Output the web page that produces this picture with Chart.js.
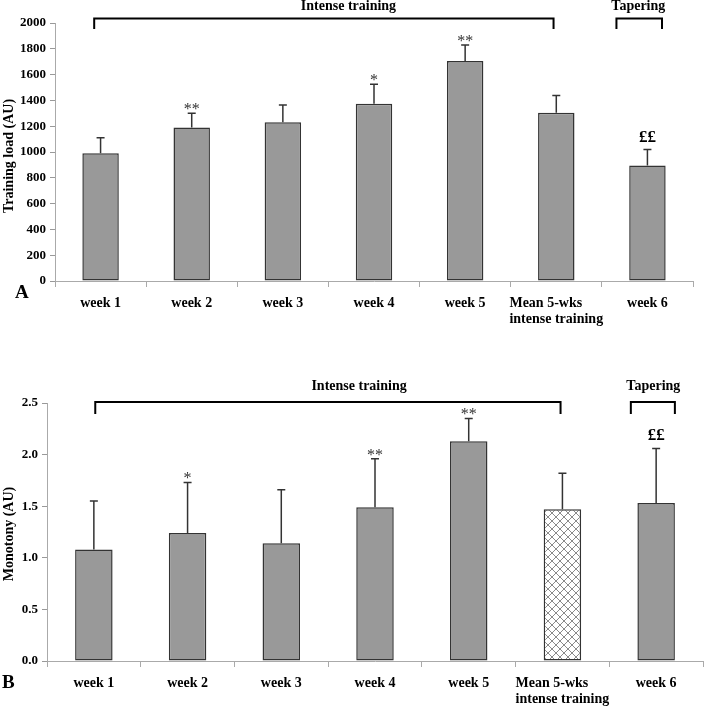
<!DOCTYPE html>
<html>
<head>
    <title>Training load and monotony</title>
    <script src="https://cdn.jsdelivr.net/npm/chart.js"></script>
    <style>
        * { margin: 0; padding: 0; box-sizing: border-box; }
        body { width: 704px; height: 707px; background: #fff; position: relative; overflow: hidden; }
        .panel { position: absolute; left: 0; width: 704px; }
    </style>
</head>
<body>
    <div class="panel" style="top:0;height:345px"><canvas id="chartA"></canvas></div>
    <div class="panel" style="top:345px;height:362px"><canvas id="chartB"></canvas></div>

    <script>
        // categories shared by both panels (trailing spaces keep the two lines left-aligned)
        const categories = ['week 1', 'week 2', 'week 3', 'week 4', 'week 5', ['Mean 5-wks      ', 'intense training'], 'week 6'];

        // panel A - training load (AU)
        const loadMean = [990, 1190, 1230, 1375, 1705, 1305, 895];
        const loadSD = [120, 110, 135, 150, 125, 133, 124];
        const loadMarks = ['', '**', '', '*', '**', '', '££'];
        const loadTicks = { min: 0, max: 2000, step: 200 };

        // panel B - monotony (AU)
        const monoMean = [1.08, 1.24, 1.14, 1.49, 2.13, 1.47, 1.53];
        const monoSD = [0.47, 0.49, 0.52, 0.47, 0.22, 0.35, 0.53];
        const monoMarks = ['', '*', '', '**', '**', '', '££'];
        const monoTicks = { min: 0, max: 2.5, step: 0.5 };

        const serif = "'Liberation Serif', 'Times New Roman', serif";
        const barFill = '#999999';
        const barEdge = '#333333';

        // white cross-hatch used for the mean bar in panel B
        function crossHatch() {
            const c = document.createElement('canvas');
            c.width = 8; c.height = 8;
            const g = c.getContext('2d');
            g.fillStyle = '#fff';
            g.fillRect(0, 0, 8, 8);
            g.strokeStyle = '#8a8a8a';
            g.lineWidth = 1;
            g.beginPath();
            g.moveTo(0, 0); g.lineTo(8, 8);
            g.moveTo(8, 0); g.lineTo(0, 8);
            g.stroke();
            return g.createPattern(c, 'repeat');
        }

        // error bars, significance marks, brackets, panel letter and y title
        function makeOverlay(cfg) {
            return {
                id: 'overlay',
                afterDatasetsDraw(chart) {
                    const ctx = chart.ctx;
                    const xs = chart.scales.x, ys = chart.scales.y;
                    const area = chart.chartArea;
                    const meta = chart.getDatasetMeta(0);
                    const catX = v => xs.left + (v + 0.5) * (xs.width / categories.length);
                    ctx.save();

                    ctx.strokeStyle = '#333';
                    ctx.lineWidth = 1.5;
                    meta.data.forEach((bar, i) => {
                        const top = ys.getPixelForValue(cfg.means[i] + cfg.sds[i]);
                        ctx.beginPath();
                        ctx.moveTo(bar.x, bar.y);
                        ctx.lineTo(bar.x, top);
                        ctx.moveTo(bar.x - 4, top);
                        ctx.lineTo(bar.x + 4, top);
                        ctx.stroke();

                        const mark = cfg.marks[i];
                        if (mark) {
                            ctx.textAlign = 'center';
                            ctx.textBaseline = 'alphabetic';
                            if (mark.startsWith('£')) {
                                ctx.fillStyle = '#000';
                                ctx.font = 'bold 17px ' + serif;
                                ctx.fillText(mark, bar.x, top - 8);
                            } else {
                                ctx.fillStyle = '#333';
                                ctx.font = '16px ' + serif;
                                ctx.fillText(mark, bar.x, top + 1);
                            }
                        }
                    });

                    // brackets above the bars
                    ctx.strokeStyle = '#000';
                    ctx.lineWidth = 2;
                    ctx.fillStyle = '#000';
                    ctx.font = 'bold 14px ' + serif;
                    ctx.textAlign = 'center';
                    ctx.textBaseline = 'middle';
                    cfg.brackets.forEach(b => {
                        const x0 = catX(b.from), x1 = catX(b.to);
                        const yl = area.top + cfg.lineDy, yt = area.top + cfg.tickDy;
                        ctx.beginPath();
                        ctx.moveTo(x0, yt);
                        ctx.lineTo(x0, yl);
                        ctx.lineTo(x1, yl);
                        ctx.lineTo(x1, yt);
                        ctx.stroke();
                        ctx.fillText(b.label, catX(b.at), area.top + cfg.textDy);
                    });

                    // panel letter
                    ctx.font = 'bold 19px ' + serif;
                    ctx.textAlign = 'left';
                    ctx.fillText(cfg.letter, cfg.letterX, area.bottom + cfg.letterDy);

                    // rotated y title
                    ctx.translate(9, (area.top + area.bottom) / 2 + cfg.titleDy);
                    ctx.rotate(-Math.PI / 2);
                    ctx.textAlign = 'center';
                    ctx.font = 'bold 14px ' + serif;
                    ctx.fillText(cfg.title, 0, 0);
                    ctx.restore();
                }
            };
        }

        function buildChart(id, opts) {
            return new Chart(document.getElementById(id), {
                type: 'bar',
                data: {
                    labels: categories,
                    datasets: [{
                        data: opts.means,
                        backgroundColor: opts.fills,
                        borderColor: barEdge,
                        borderWidth: 1.5,
                        borderSkipped: false,
                        barPercentage: 0.4,
                        categoryPercentage: 1
                    }]
                },
                options: {
                    responsive: true,
                    maintainAspectRatio: false,
                    animation: false,
                    layout: { padding: opts.padding },
                    plugins: { legend: { display: false }, tooltip: { enabled: false } },
                    scales: {
                        x: {
                            afterFit: s => { s.height = opts.xHeight; },
                            grid: { offset: true, drawOnChartArea: false, tickLength: 6, color: '#aaa' },
                            border: { display: true, color: '#aaa' },
                            ticks: {
                                autoSkip: false,
                                color: '#000',
                                padding: 8,
                                maxRotation: 0,
                                font: { family: serif, size: 14, weight: 'bold', lineHeight: 1.15 }
                            }
                        },
                        y: {
                            min: opts.ticks.min,
                            max: opts.ticks.max,
                            afterFit: s => { s.width = opts.yWidth; },
                            grid: { drawOnChartArea: false, tickLength: 5, color: '#999' },
                            border: { display: true, color: '#aaa' },
                            ticks: {
                                stepSize: opts.ticks.step,
                                color: '#000',
                                padding: 4,
                                font: { family: serif, size: 13, weight: 'bold' },
                                callback: opts.fmt
                            }
                        }
                    }
                },
                plugins: [makeOverlay(opts.overlay)]
            });
        }

        buildChart('chartA', {
            means: loadMean,
            fills: loadMean.map(() => barFill),
            ticks: loadTicks,
            fmt: v => v,
            padding: { top: 23, right: 11, left: 0, bottom: 0 },
            xHeight: 64,
            yWidth: 55,
            overlay: {
                means: loadMean, sds: loadSD, marks: loadMarks,
                title: 'Training load (AU)', titleDy: 4,
                letter: 'A', letterX: 15, letterDy: 12,
                lineDy: -4.5, tickDy: 6, textDy: -17,
                brackets: [
                    { label: 'Intense training', from: -0.07, to: 4.97, at: 2.72 },
                    { label: 'Tapering', from: 5.66, to: 6.16, at: 5.9 }
                ]
            }
        });

        buildChart('chartB', {
            means: monoMean,
            fills: monoMean.map((v, i) => i === 5 ? crossHatch() : barFill),
            ticks: monoTicks,
            fmt: v => v.toFixed(1),
            padding: { top: 58, right: 1, left: 0, bottom: 0 },
            xHeight: 46,
            yWidth: 47,
            overlay: {
                means: monoMean, sds: monoSD, marks: monoMarks,
                title: 'Monotony (AU)', titleDy: 2,
                letter: 'B', letterX: 2, letterDy: 22,
                lineDy: -1, tickDy: 11, textDy: -17,
                brackets: [
                    { label: 'Intense training', from: 0.015, to: 4.98, at: 2.83 },
                    { label: 'Tapering', from: 5.73, to: 6.2, at: 5.97 }
                ]
            }
        });
    </script>
</body>
</html>
